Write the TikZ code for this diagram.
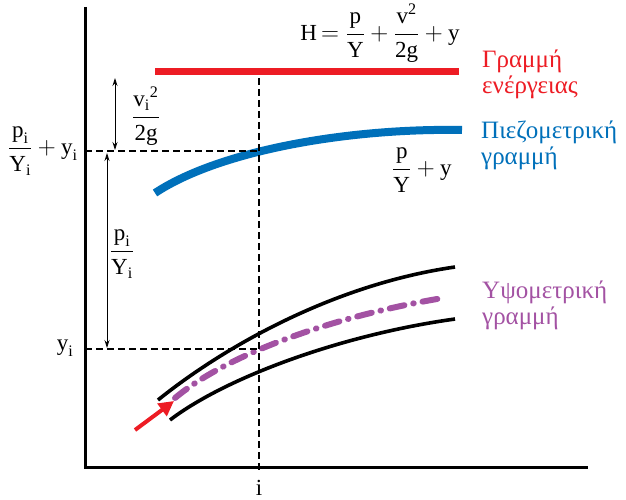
\documentclass[tikz,border=0pt]{standalone}
\usepackage{amsmath}
\usepackage{fontspec}
\setmainfont{Liberation Serif}
\usetikzlibrary{arrows.meta, positioning}
\definecolor{linered}{RGB}{237, 28, 36}
\definecolor{lineblue}{RGB}{0, 112, 186}
\definecolor{linepurple}{RGB}{163, 82, 163}
\newcommand{\tx}[1]{\text{#1}}

\begin{document}
\begin{tikzpicture}[
  x=1pt, y=-1pt,
  lbl/.style={font=\fontsize{23}{25}\selectfont, inner sep=1pt},
  glabel/.style={font=\fontsize{25}{26}\selectfont, inner sep=1pt, align=left, anchor=west},
  guide/.style={dashed, dash pattern=on 7pt off 4pt, line width=1.2pt},
  dim/.style={{Stealth[length=8pt,width=5pt]}-{Stealth[length=8pt,width=5pt]}, line width=0.8pt},
  pipe/.style={line width=3.6pt}
]
  \useasboundingbox (0,0) rectangle (626,500);

  % axes
  \coordinate (top) at (85,7);
  \coordinate (origin) at (85,467);
  \coordinate (right) at (588,467);
  \draw[line width=3pt] (top) -- (origin) -- (right);

  % energy line and piezometric line
  \coordinate (E0) at (155,72);
  \coordinate (E1) at (459,72);
  \draw[linered, line width=7pt] (E0) -- (E1);
  \coordinate (P0) at (155,193);
  \coordinate (P1) at (462,130);
  \draw[lineblue, line width=8pt] (P0) .. controls (220,150) and (350,128) .. (P1);

  % pipe walls and centre line
  \draw[pipe] (158,400) .. controls (220,350) and (330,285) .. (455,267);
  \draw[pipe] (170,420) .. controls (225,378) and (340,335) .. (455,319);
  \draw[linepurple, line width=6pt, line cap=round, dash pattern=on 15pt off 9pt on 0.5pt off 9pt]
    (175,398) .. controls (230,352) and (340,315) .. (443,298);

  % flow arrow
  \coordinate (F0) at (135,430);
  \coordinate (F1) at (174,401);
  \draw[linered, line width=4pt, -{Triangle[length=15pt,width=15pt]}] (F0) -- (F1);

  % guide lines at section i
  \coordinate (Ei) at (259,78);
  \coordinate (Ai) at (259,471);
  \coordinate (Hp) at (85,151);
  \coordinate (Hpi) at (259,151);
  \coordinate (Hy) at (85,349);
  \coordinate (Hyi) at (259,349);
  \draw[guide] (Ei) -- (Ai);
  \draw[guide] (Hp) -- (Hpi);
  \draw[guide] (Hy) -- (Hyi);

  % dimension arrows
  \coordinate (Va) at (115,78);
  \coordinate (Vb) at (115,150);
  \coordinate (Pa) at (107,153);
  \coordinate (Pb) at (107,348);
  \draw[dim] (Va) -- (Vb);
  \draw[dim] (Pa) -- (Pb);

  % labels
  \node[lbl] (Hform) at (380,33) {H$\,=\dfrac{\tx{p}}{\tx{Υ}}+\dfrac{\tx{v}^{\tx{2}}}{\tx{2g}}+\tx{y}$};
  \node[lbl] (pyform) at (422,170) {$\dfrac{\tx{p}}{\tx{Υ}}+\tx{y}$};
  \node[lbl] (vlab) at (146,116) {$\dfrac{\tx{v}_{\tx{i}}{}^{\tx{2}}}{\tx{2g}}$};
  \node[lbl] (plab) at (122,254) {$\dfrac{\tx{p}_{\tx{i}}}{\tx{Υ}_{\tx{i}}}$};
  \node[lbl] (pylab) at (43,151) {$\dfrac{\tx{p}_{\tx{i}}}{\tx{Υ}_{\tx{i}}}+\tx{y}_{\tx{i}}$};
  \node[lbl] (ylab) at (65,348) {$\tx{y}_{\tx{i}}$};
  \node[lbl] (ilab) at (259,488) {i};

  \node[glabel, text=linered] (Elab) at (481,74) {Γραμμή\\ενέργειας};
  \node[glabel, text=lineblue] (Plab) at (480,145) {Πιεζομετρική\\γραμμή};
  \node[glabel, text=linepurple] (Ylab) at (481,305) {Υψομετρική\\γραμμή};
\end{tikzpicture}
\end{document}
